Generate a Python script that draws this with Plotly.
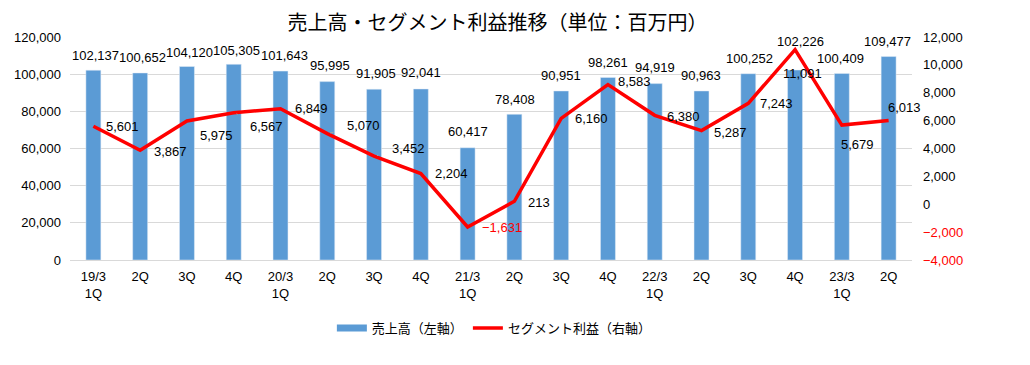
import plotly.graph_objects as go

# ---- data ----
tick_labels = ["19/3<br>1Q", "2Q", "3Q", "4Q", "20/3<br>1Q", "2Q", "3Q", "4Q",
               "21/3<br>1Q", "2Q", "3Q", "4Q", "22/3<br>1Q", "2Q", "3Q", "4Q",
               "23/3<br>1Q", "2Q"]
sales = [102137, 100652, 104120, 105305, 101643, 95995, 91905, 92041, 60417,
         78408, 90951, 98261, 94919, 90963, 100252, 102226, 100409, 109477]
segment_profit = [5601, 3867, 5975, 6567, 6849, 5070, 3452, 2204, -1631,
                  213, 6160, 8583, 6380, 5287, 7243, 11091, 5679, 6013]
left_ticks = [0, 20000, 40000, 60000, 80000, 100000, 120000]
right_ticks = [-4000, -2000, 0, 2000, 4000, 6000, 8000, 10000, 12000]

# ---- label placement (pixel offsets, styling only) ----
bar_label_dx = [2, 2, 3, 3, 4, 3, 2, 0, 0, 1, 0, 0, 0, -1, 1, 5, -1, -1]
bar_label_dy = [15, 15, 14, 14, 16, 16, 16, 16, 16, 15, 15, 15, 16, 15, 15, 29, 15, 15]
line_label_dx = [29, 30, 30, 33, 31, 36, 34, 31, 34, 25, 30, 27, 29, 29, 28, 7, 16, 16]
line_label_dy = [0, 1, 15, 14, 0, -8, -8, 0, 1, 1, 0, -3, 1, 2, 0, 24, 19, -13]
leader = [False, False, True, True, False, True, True, False, False, False,
          False, False, False, False, False, False, False, False]

FONT = "Liberation Sans, Arial, Noto Sans CJK JP, sans-serif"
JFONT = "Noto Sans CJK JP, sans-serif"
BLUE = "#5B9BD5"
RED = "#FF0000"

# page body has an 8px margin; figure size compensates for it
W, H = 1022, 357

x = list(range(len(sales)))


def fmt(v):
    s = f"{abs(v):,}"
    return ("\u2212" + s) if v < 0 else s


fig = go.Figure()
fig.add_trace(go.Bar(x=x, y=sales, marker_color=BLUE, name="売上高（左軸）",
                     showlegend=False, hoverinfo="skip"))
fig.add_trace(go.Scatter(x=[None], y=[None], mode="lines",
                         line=dict(color=BLUE, width=7), name="売上高（左軸）"))
fig.add_trace(go.Scatter(x=x, y=segment_profit, yaxis="y2", mode="lines",
                         line=dict(color=RED, width=3.5), name="セグメント利益（右軸）",
                         hoverinfo="skip"))

annotations = []
for i, v in enumerate(sales):
    annotations.append(dict(x=i, y=v, xref="x", yref="y", text=fmt(v),
                            showarrow=False, xshift=bar_label_dx[i], yshift=bar_label_dy[i],
                            font=dict(family=FONT, size=13, color="black")))
for i, v in enumerate(segment_profit):
    annotations.append(dict(x=i, y=v, xref="x", yref="y2", text=fmt(v),
                            showarrow=True, ax=line_label_dx[i], ay=line_label_dy[i],
                            axref="pixel", ayref="pixel",
                            arrowhead=0, arrowwidth=1,
                            arrowcolor="#A6A6A6" if leader[i] else "rgba(0,0,0,0)",
                            standoff=3, startstandoff=12,
                            font=dict(family=FONT, size=13,
                                      color=RED if v < 0 else "black")))

right_text = [(f'<span style="color:{RED}">{fmt(t)}</span>' if t < 0 else fmt(t))
              for t in right_ticks]

fig.update_layout(
    width=W, height=H,
    margin=dict(l=62, r=118, t=29, b=105, autoexpand=False),
    paper_bgcolor="white", plot_bgcolor="white",
    title=dict(text="売上高・セグメント利益推移（単位：百万円）", x=0.479, xanchor="center",
               y=1 - 15 / H, yanchor="middle",
               font=dict(family=JFONT, size=20, color="black")),
    bargap=0.68,
    xaxis=dict(range=[-0.5, len(sales) - 0.5], tickvals=x, ticktext=tick_labels,
               showgrid=False, showline=True, linecolor="#D9D9D9", linewidth=1,
               ticks="", ticklabelstandoff=4, automargin=False,
               tickfont=dict(family=FONT, size=13, color="black"), zeroline=False),
    yaxis=dict(range=[0, 120000], tickvals=left_ticks,
               ticktext=[fmt(t) for t in left_ticks], automargin=False,
               showgrid=True, gridcolor="#D9D9D9", gridwidth=1, zeroline=False,
               ticks="", ticklabelstandoff=8,
               tickfont=dict(family=FONT, size=13, color="black")),
    yaxis2=dict(range=[-4000, 12000], overlaying="y", side="right",
                tickvals=right_ticks, ticktext=right_text, showgrid=False,
                zeroline=False, ticks="", ticklabelstandoff=10, automargin=False,
                tickfont=dict(family=FONT, size=13, color="black")),
    legend=dict(orientation="h", x=0.504, xanchor="center", y=-0.305, yanchor="middle",
                font=dict(family=JFONT, size=13, color="black"), bgcolor="rgba(0,0,0,0)"),
    annotations=annotations,
    showlegend=True,
)

fig.write_html("out.html")
